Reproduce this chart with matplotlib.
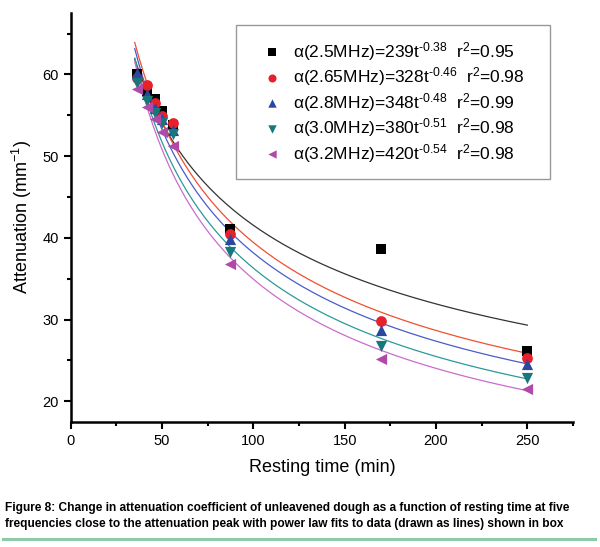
import matplotlib
matplotlib.use("Agg")
import matplotlib.pyplot as plt
import numpy as np

plt.rcParams['font.family'] = ['Liberation Sans', 'DejaVu Sans']
plt.rcParams['mathtext.fontset'] = 'custom'
plt.rcParams['mathtext.rm'] = 'Liberation Sans'
plt.rcParams['mathtext.it'] = 'Liberation Sans'

# resting time (min)
t = [36, 42, 46, 50, 56, 87, 170, 250]

# attenuation (mm^-1) per frequency
a_25 = [60.0, 58.0, 57.0, 55.5, 53.8, 41.1, 38.6, 26.1]
a_265 = [59.6, 58.7, 56.5, 54.9, 54.0, 40.5, 29.8, 25.3]
a_28 = [60.2, 57.6, 55.9, 54.6, 53.2, 39.8, 28.7, 24.6]
a_30 = [59.0, 56.8, 55.3, 54.0, 52.7, 38.3, 26.8, 22.8]
a_32 = [58.2, 56.0, 54.6, 53.0, 51.2, 36.8, 25.2, 21.5]

# power law fits alpha = A * t^b
fit_A = [239, 328, 348, 380, 420]
fit_b = ['-0.38', '-0.46', '-0.48', '-0.51', '-0.54']
fit_r2 = ['0.95', '0.98', '0.99', '0.98', '0.98']
freqs = ['2.5', '2.65', '2.8', '3.0', '3.2']

series = [a_25, a_265, a_28, a_30, a_32]
markers = ['s', 'o', '^', 'v', '<']
sizes = [55, 60, 65, 65, 65]
mcolors = ['#000000', '#e8202a', '#2b48a0', '#17777a', '#b049a8']
lcolors = ['#333333', '#f0502e', '#4a5cc8', '#2a9a98', '#cc6ccc']

fig = plt.figure(figsize=(6, 5.47), dpi=100)
ax = fig.add_axes([0.118, 0.229, 0.837, 0.747])

tt = np.linspace(35, 250, 300)
for i in range(5):
    ax.plot(tt, fit_A[i] * tt ** float(fit_b[i]), color=lcolors[i], lw=0.9, zorder=2)

for i in range(5):
    sup = fit_b[i].replace('-', '\u2010')
    lab = 'α(%sMHz)=%dt$^{\\mathrm{%s}}$  r$^{2}$=%s   ' % (freqs[i], fit_A[i], sup, fit_r2[i])
    ax.scatter(t, series[i], marker=markers[i], s=sizes[i], color=mcolors[i],
               zorder=3, label=lab, linewidths=0)

ax.set_xlim(0, 275)
ax.set_ylim(17.5, 67.5)
ax.set_xticks([0, 50, 100, 150, 200, 250])
ax.set_xticks([25, 75, 125, 175, 225, 275], minor=True)
ax.set_yticks([20, 30, 40, 50, 60])
ax.set_yticks([25, 35, 45, 55, 65], minor=True)
ax.spines['top'].set_visible(False)
ax.spines['right'].set_visible(False)
ax.spines['left'].set_linewidth(1.8)
ax.spines['bottom'].set_linewidth(1.8)
ax.tick_params(which='major', length=5, width=1.5, labelsize=10.5)
ax.tick_params(which='minor', length=3, width=1.5)
ax.set_xlabel('Resting time (min)', fontsize=13, labelpad=8)
ax.set_ylabel('Attenuation (mm$^{-1}$)', fontsize=13, labelpad=6)

leg = ax.legend(loc='upper left', bbox_to_anchor=(0.329, 0.971), fontsize=12.5,
                frameon=True, fancybox=False, edgecolor='#808080',
                handletextpad=0.05, labelspacing=0.15, borderpad=0.85,
                borderaxespad=0, handlelength=2.4, scatterpoints=1, markerscale=0.75)
leg.get_frame().set_linewidth(1.0)

fig.text(0.008, 0.057, 'Figure 8: Change in attenuation coefficient of unleavened dough as a function of resting time at five\n'
         'frequencies close to the attenuation peak with power law fits to data (drawn as lines) shown in box',
         fontsize=8.6, fontweight='bold', va='center', ha='left', linespacing=1.45)
fig.add_artist(plt.Line2D([0.005, 0.992], [0.015, 0.015], color='#8ccaa8', lw=2.2))

fig.savefig('out.png', dpi=100)
